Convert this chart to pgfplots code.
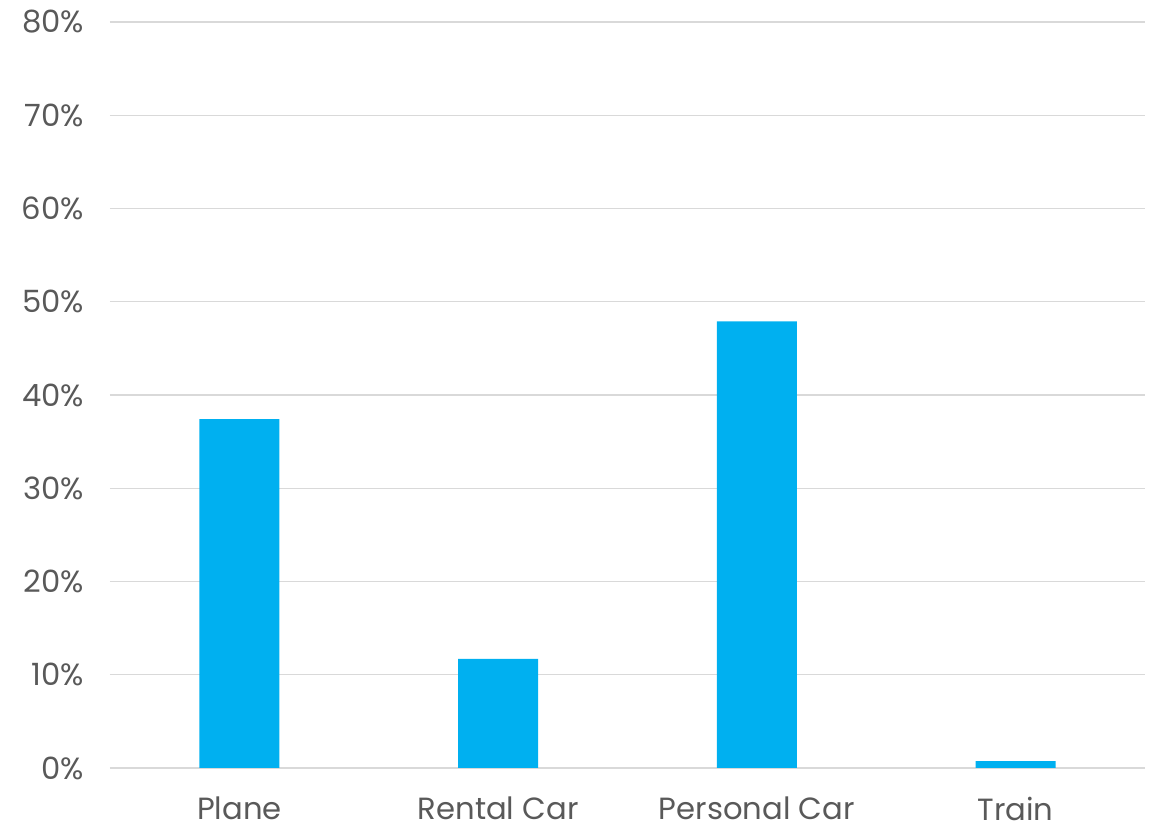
\documentclass[border=0pt]{standalone}
\usepackage{pgfplots}
\pgfplotsset{compat=1.18}
\usepackage{fontspec}
\setmainfont{Poppins}
\definecolor{barblue}{HTML}{00B0F0}
\definecolor{txtgray}{HTML}{595959}
\definecolor{gridgray}{HTML}{D9D9D9}
\begin{document}
\begin{tikzpicture}
\begin{axis}[
  at={(82.5pt,45.75pt)}, anchor=south west,
  scale only axis, width=776.25pt, height=559.5pt,
  xmin=-0.5, xmax=3.5, ymin=0, ymax=80,
  xtick={0,1,2,3},
  xticklabels={Plane,Rental Car,Personal Car,Train},
  ytick={0,10,20,30,40,50,60,70,80},
  yticklabel={\pgfmathprintnumber{\tick}\%},
  /pgf/number format/assume math mode=true,
  ticklabel style={font=\fontsize{23}{26}\selectfont, text=txtgray},
  major tick length=0pt,
  axis line style={draw=none},
  ymajorgrids, grid style={gridgray, line width=0.9pt},
  xticklabel style={yshift=-18pt},
  yticklabel style={xshift=-16pt},
  clip=false,
]
\addplot[ybar, bar width=60pt, fill=barblue, draw=none] coordinates {(0,37.4) (1,11.7) (2,47.9) (3,0.75)};
\end{axis}
\pgfresetboundingbox
\path (0,0) rectangle (868.5pt,621.75pt);
\end{tikzpicture}
\end{document}
